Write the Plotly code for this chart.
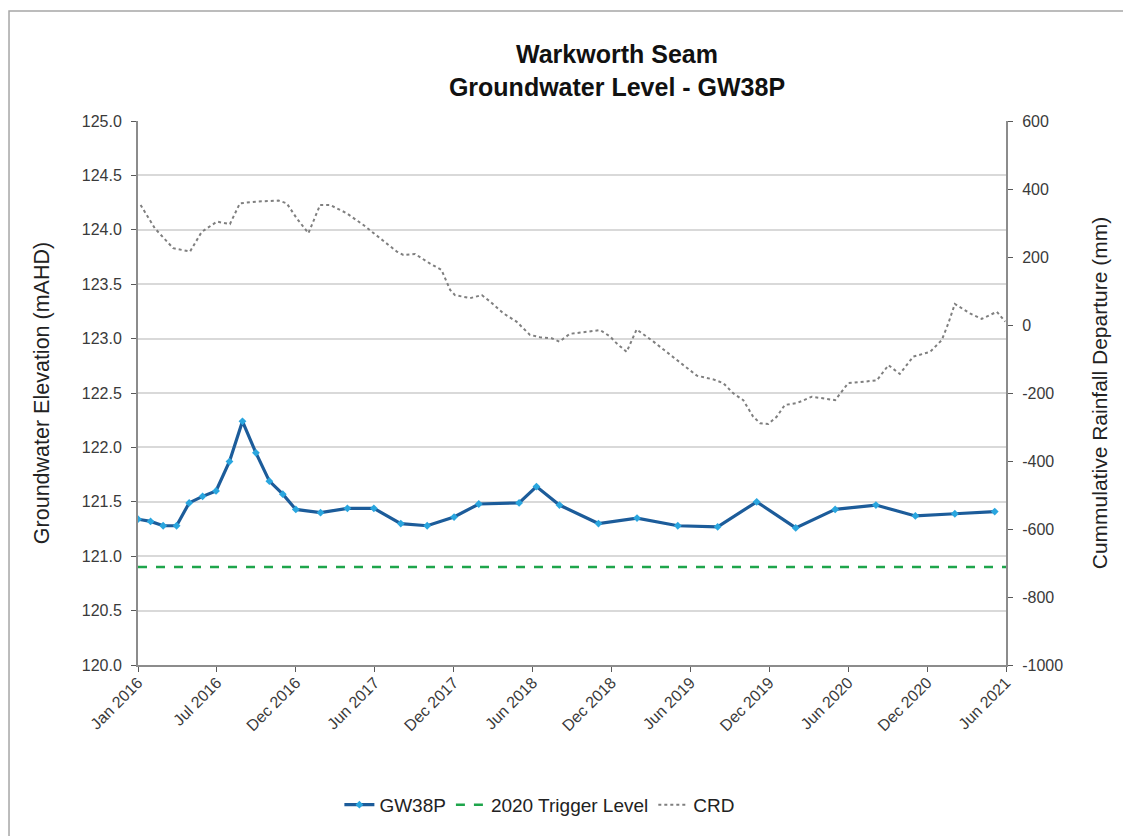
import plotly.graph_objects as go

# GW38P groundwater level (mAHD)
gw_dates = [
    "2016-01-01", "2016-01-30", "2016-02-28", "2016-03-30", "2016-04-28",
    "2016-05-29", "2016-06-29", "2016-07-30", "2016-08-29", "2016-09-29",
    "2016-10-30", "2016-11-30", "2016-12-30", "2017-02-25", "2017-04-28",
    "2017-06-28", "2017-08-29", "2017-10-29", "2017-12-30", "2018-02-25",
    "2018-05-29", "2018-07-08", "2018-08-30", "2018-11-28", "2019-02-25",
    "2019-05-30", "2019-08-30", "2019-11-28", "2020-02-26", "2020-05-27",
    "2020-08-29", "2020-11-28", "2021-02-27", "2021-05-30",
]
gw_level = [
    121.34, 121.32, 121.28, 121.28, 121.49, 121.55, 121.60, 121.87, 122.24,
    121.95, 121.69, 121.57, 121.43, 121.40, 121.44, 121.44, 121.30, 121.28,
    121.36, 121.48, 121.49, 121.64, 121.47, 121.30, 121.35, 121.28, 121.27,
    121.50, 121.26, 121.43, 121.47, 121.37, 121.39, 121.41,
]

# 2020 trigger level (mAHD)
trigger_level = 120.9
trigger_dates = ["2016-01-01", "2021-06-25"]

# cumulative rainfall departure (mm)
crd_dates = [
    "2016-01-07", "2016-02-09", "2016-03-22", "2016-04-30", "2016-05-27",
    "2016-07-01", "2016-07-31", "2016-08-23", "2016-10-01", "2016-11-20",
    "2016-12-09", "2017-01-01", "2017-01-28", "2017-02-24", "2017-03-19",
    "2017-04-26", "2017-06-04", "2017-07-12", "2017-08-20", "2017-09-04",
    "2017-10-01", "2017-11-04", "2017-12-01", "2017-12-21", "2018-01-01",
    "2018-02-05", "2018-03-04", "2018-03-23", "2018-04-23", "2018-05-23",
    "2018-06-23", "2018-07-16", "2018-08-12", "2018-08-30", "2018-09-23",
    "2018-11-01", "2018-12-02", "2018-12-25", "2019-01-09", "2019-02-01",
    "2019-02-24", "2019-04-04", "2019-05-12", "2019-06-20", "2019-07-13",
    "2019-08-20", "2019-09-12", "2019-10-05", "2019-10-28", "2019-11-20",
    "2019-12-06", "2019-12-25", "2020-01-13", "2020-02-01", "2020-02-28",
    "2020-04-03", "2020-04-30", "2020-05-27", "2020-06-26", "2020-08-08",
    "2020-08-31", "2020-09-27", "2020-10-23", "2020-11-23", "2021-01-01",
    "2021-01-28", "2021-02-12", "2021-02-27", "2021-04-03", "2021-04-30",
    "2021-06-04", "2021-06-23",
]
crd_values = [
    353, 284, 226, 216, 274, 304, 297, 358, 363, 366,
    358, 314, 270, 353, 353, 329, 294, 255, 216, 206,
    209, 181, 162, 103, 88, 79, 88, 69, 34, 10,
    -29, -36, -39, -49, -26, -20, -15, -34, -54, -79,
    -13, -49, -88, -127, -149, -160, -171, -201, -221, -270,
    -289, -291, -270, -235, -230, -211, -216, -221, -171, -166,
    -163, -118, -144, -93, -79, -44, 5, 62, 34, 18,
    39, 10,
]

tick_dates = [
    "2016-01-01", "2016-07-01", "2016-12-30", "2017-06-30", "2017-12-29",
    "2018-06-29", "2018-12-28", "2019-06-28", "2019-12-27", "2020-06-26",
    "2020-12-25", "2021-06-25",
]
tick_labels = [
    "Jan 2016", "Jul 2016", "Dec 2016", "Jun 2017", "Dec 2017", "Jun 2018",
    "Dec 2018", "Jun 2019", "Dec 2019", "Jun 2020", "Dec 2020", "Jun 2021",
]
crd_ticks = [-1000, -800, -600, -400, -200, 0, 200, 400, 600]
crd_tick_labels = [str(v) for v in crd_ticks]

font = "Liberation Sans, Arial, sans-serif"

fig = go.Figure()

fig.add_trace(go.Scatter(
    x=gw_dates, y=gw_level, name="GW38P", mode="lines+markers",
    line=dict(color="#1c5c9a", width=3.2),
    marker=dict(symbol="diamond", size=6, color="#2aa6df"),
))
fig.add_trace(go.Scatter(
    x=trigger_dates, y=[trigger_level] * len(trigger_dates),
    name="2020 Trigger Level", mode="lines",
    line=dict(color="#1ea54b", width=2.5, dash="dash"),
))
fig.add_trace(go.Scatter(
    x=crd_dates, y=crd_values, name="CRD", mode="lines", yaxis="y2",
    line=dict(color="#7f7f7f", width=2, dash="dot"),
))

axis_line = dict(showline=True, linecolor="#8c8c8c", linewidth=2,
                 ticks="outside", ticklen=5, tickcolor="#595959",
                 tickfont=dict(family=font, size=16, color="#3a3a3a"))

fig.update_layout(
    width=1131, height=836,
    margin=dict(l=130, r=133, t=113, b=179),
    paper_bgcolor="white", plot_bgcolor="white",
    font=dict(family=font, color="#222222"),
    title=dict(
        text="<b>Warkworth Seam<br>Groundwater Level - GW38P</b>",
        x=(617 - 8) / 1131, xanchor="center", y=0.934, yanchor="top",
        font=dict(family=font, size=25, color="#111111"),
    ),
    xaxis=dict(
        type="date", range=["2016-01-01", "2021-06-25"],
        tickvals=tick_dates, ticktext=tick_labels, tickangle=-45,
        ticklabelstandoff=-5,
        showgrid=False, zeroline=False, **axis_line,
    ),
    yaxis=dict(
        range=[120, 125], dtick=0.5, tickformat=".1f", ticklabelstandoff=6,
        showgrid=True, gridcolor="#d9d9d9", gridwidth=1.5, zeroline=False,
        title=dict(text="Groundwater Elevation (mAHD)",
                   font=dict(family=font, size=21.5, color="#222222"), standoff=26),
        **axis_line,
    ),
    yaxis2=dict(
        range=[-1000, 600], tickvals=crd_ticks, ticktext=crd_tick_labels,
        overlaying="y", side="right", ticklabelstandoff=6,
        showgrid=False, zeroline=False,
        title=dict(text="Cummulative Rainfall Departure (mm)",
                   font=dict(family=font, size=21, color="#222222"), standoff=30),
        **axis_line,
    ),
    legend=dict(
        orientation="h", x=0.463, xanchor="center", y=-0.257, yanchor="middle",
        font=dict(family=font, size=19, color="#222222"),
        tracegroupgap=0,
    ),
    showlegend=True,
)

# outer chart frame
fig.add_shape(type="rect", xref="paper", yref="paper",
              x0=-0.1486, x1=1.16, y0=-0.33, y1=1.2022,
              line=dict(color="#a6a6a6", width=1.5), layer="below")

fig.write_html("out.html")
